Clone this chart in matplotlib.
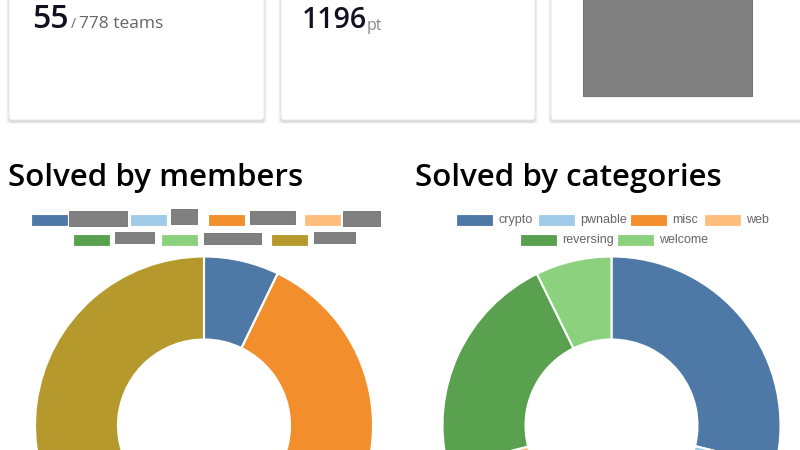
import matplotlib
matplotlib.use('Agg')
import matplotlib.pyplot as plt
from matplotlib.patches import FancyBboxPatch, Rectangle

# stats cards
rank = 55
teams = 778
score = 1196

# members chart (names are redacted in the screenshot)
member_values = [86, 0, 346, 100, 66, 50, 548]
member_colors = ['#4e79a7', '#a0cbe8', '#f28e2b', '#ffbe7d', '#59a14f', '#8cd17d', '#b6992d']

# categories chart
categories = ['crypto', 'pwnable', 'misc', 'web', 'reversing', 'welcome']
category_values = [345, 100, 250, 155, 259, 87]
category_colors = ['#4e79a7', '#a0cbe8', '#f28e2b', '#ffbe7d', '#59a14f', '#8cd17d']

W, H = 800, 450
fig = plt.figure(figsize=(8, 4.5), dpi=100)
ax = fig.add_axes([0, 0, 1, 1])


def Y(y):
    return H - y


# cards with a soft shadow
for x0, x1 in [(9, 264), (281, 535), (551, 830)]:
    for k, a in [(3, 0.04), (2, 0.05), (1, 0.07)]:
        ax.add_patch(FancyBboxPatch((x0 - k + 0.5, Y(120) - k - 1), x1 - x0 + 2 * k - 1, 150,
                                    boxstyle='round,pad=0,rounding_size=4',
                                    fc='black', ec='none', alpha=a, zorder=1))
    ax.add_patch(FancyBboxPatch((x0, Y(120)), x1 - x0, 150,
                                boxstyle='round,pad=0,rounding_size=4',
                                fc='white', ec='#ececec', lw=0.8, zorder=2))
ax.add_patch(Rectangle((583, Y(96)), 169, 100, fc='#808080', ec='#777777', lw=0.8, zorder=3))

big = dict(family='Open Sans', color='#111122', zorder=4, va='baseline', weight='semibold')
ax.text(32, Y(28), str(rank), fontsize=23, **big)
ax.text(71, Y(28), '/', fontsize=10, family='Open Sans', color='#666666', va='baseline', zorder=4)
ax.text(79, Y(28), f'{teams} teams', fontsize=12.5, family='Open Sans', color='#666666',
        va='baseline', zorder=4)
ax.text(302, Y(28), str(score), fontsize=20.5, **big)
ax.text(367, Y(30), 'pt', fontsize=11.5, family='Open Sans', color='#888888', va='baseline', zorder=4)

# section titles
title = dict(fontsize=22.5, family='Open Sans', weight='semibold', color='black', va='baseline', zorder=4)
ax.text(8, Y(186), 'Solved by members', **title)
ax.text(415, Y(186), 'Solved by categories', **title)

# doughnuts
for vals, cols, cx in [(member_values, member_colors, 204), (category_values, category_colors, 611.5)]:
    ax.pie(vals, colors=cols, startangle=90, counterclock=False, radius=169,
           center=(cx, Y(425.5)), frame=True,
           wedgeprops=dict(width=83, edgecolor='white', linewidth=1.5))

# members legend: colour boxes with redacted names
m_boxes = [(32, 215), (131, 215), (209, 215), (305, 215), (74, 235), (162, 235), (272, 235)]
m_names = [(69, 211, 58, 15), (171, 209, 26, 15), (250, 211, 45, 13), (343, 211, 37, 15),
           (115, 232, 39, 11), (204, 233, 57, 11), (314, 232, 41, 11)]
for c, (bx, by), (nx, ny, nw, nh) in zip(member_colors, m_boxes, m_names):
    ax.add_patch(Rectangle((bx, Y(by + 9.5)), 34.5, 9.5, fc=c, ec=c, lw=0.6, zorder=4))
    ax.add_patch(Rectangle((nx, Y(ny + nh)), nw, nh, fc='#808080', ec='#707070', lw=0.6, zorder=4))

# categories legend
c_boxes = [(457, 215), (539, 215), (631, 215), (705, 215), (521, 235), (618, 235)]
for name, c, (bx, by) in zip(categories, category_colors, c_boxes):
    ax.add_patch(Rectangle((bx, Y(by + 9.5)), 34.5, 9.5, fc=c, ec=c, lw=0.6, zorder=4))
    ax.text(bx + 41.5, Y(by + 5), name, fontsize=9, family='Liberation Sans', color='#666666',
            va='center', zorder=4)

ax.set_xlim(0, W)
ax.set_ylim(0, H)
ax.set_aspect('auto')
ax.axis('off')
fig.savefig('out.png', dpi=100, facecolor='white')
